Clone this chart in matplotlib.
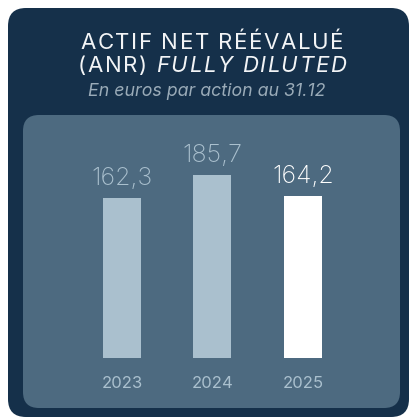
import matplotlib
matplotlib.use("Agg")
import matplotlib.pyplot as plt
from matplotlib.patches import FancyBboxPatch

# données
years = ["2023", "2024", "2025"]
anr = [162.3, 185.7, 164.2]
labels = ["162,3", "185,7", "164,2"]

# couleurs
DARK = "#15304a"
PANEL = "#4d6a80"
LIGHT = "#aac0ce"
WHITE = "#ffffff"
bar_colors = [LIGHT, LIGHT, WHITE]
label_colors = [LIGHT, LIGHT, WHITE]

plt.rcParams["font.family"] = ["Inter", "DejaVu Sans"]

W, H = 409, 418
fig = plt.figure(figsize=(W / 100, H / 100), dpi=100)
fig.patch.set_facecolor("white")

# fond en coordonnées pixels
bg = fig.add_axes([0, 0, 1, 1])
bg.set_xlim(0, W)
bg.set_ylim(H, 0)
bg.axis("off")

bg.add_patch(FancyBboxPatch((8, 8), 401, 409, boxstyle="round,pad=0,rounding_size=18",
                            fc=DARK, ec="none"))
bg.add_patch(FancyBboxPatch((23, 115), 377, 293, boxstyle="round,pad=0,rounding_size=16",
                            fc=PANEL, ec="none"))

renderer = fig.canvas.get_renderer()


def tracked_text(xc, y, parts, size, track, color):
    """Texte centré avec espacement des lettres (parts = [(texte, style), ...])."""
    chars = [(c, st) for txt, st in parts for c in txt]
    widths = []
    for c, st in chars:
        t = bg.text(0, 0, c if c != " " else "n", fontsize=size, style=st)
        w = t.get_window_extent(renderer).width
        if c == " ":
            w *= 0.45
        widths.append(w)
        t.remove()
    total = sum(widths) + track * (len(chars) - 1)
    x = xc - total / 2
    for (c, st), w in zip(chars, widths):
        if c != " ":
            bg.text(x, y, c, ha="left", va="center", fontsize=size, style=st, color=color)
        x += w + track


tracked_text(212, 43, [("ACTIF NET RÉÉVALUÉ", "normal")], 16, 1.6, "#f2f4f6")
tracked_text(212, 66, [("(ANR) ", "normal"), ("FULLY DILUTED", "italic")], 16, 1.6, "#f2f4f6")
bg.text(207, 91, "En euros par action au 31.12", ha="center", va="center",
        fontsize=12.8, color="#9aabb8", style="italic")

# graphique
px = 90.5
ax = fig.add_axes([23 / W, 1 - 358 / H, 377 / W, (358 - 115) / H])
ax.set_xlim((23 - 122) / px, (400 - 122) / px)
ax.set_ylim(0, (358 - 115) / 0.986)
ax.axis("off")

x = range(len(years))
ax.bar(x, anr, width=38 / px, color=bar_colors)
for i, (v, lab) in enumerate(zip(anr, labels)):
    ax.annotate(lab, (i, v), xytext=(0, 9.5), textcoords="offset points",
                ha="center", va="baseline", fontsize=18, fontweight="light",
                color=label_colors[i])
    ax.annotate(years[i], (i, 0), xytext=(0, -18.5), textcoords="offset points",
                ha="center", va="center", fontsize=12, color=LIGHT,
                annotation_clip=False)

fig.savefig("out.png", dpi=100)
